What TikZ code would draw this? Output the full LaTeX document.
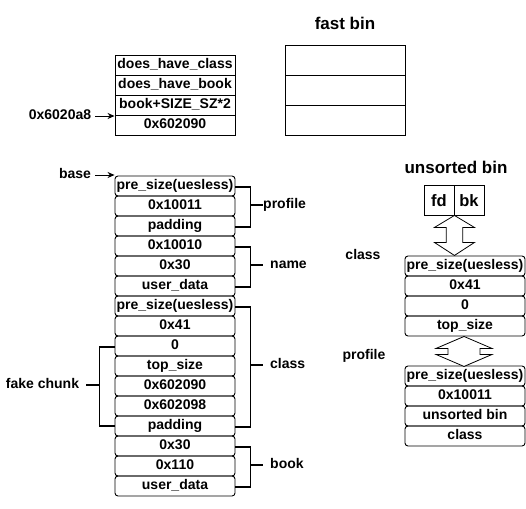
\documentclass[tikz,border=0pt]{standalone}
\usepackage{fontspec}
\setmainfont{Liberation Sans}
\usetikzlibrary{arrows.meta,calc}
\begin{document}
\begin{tikzpicture}[x=1pt,y=-1pt,
  cell/.style={draw, line width=0.9pt, rounded corners=3pt, minimum width=120pt, minimum height=20pt, inner sep=0pt, text height=10pt, text depth=3pt, font=\bfseries\fontsize{14}{16}\selectfont},
  sqcell/.style={cell, sharp corners},
  lbl/.style={inner sep=0pt, text height=10pt, text depth=3pt, font=\bfseries\fontsize{14}{16}\selectfont},
  title/.style={inner sep=0pt, anchor=base, font=\bfseries\fontsize{17}{20}\selectfont},
  bracket/.style={line width=1.8pt, line join=miter},
  ptr/.style={line width=1pt, -{Stealth[length=7pt,width=6pt]}},
  dbl/.style={draw, fill=white, line width=0.8pt, line join=miter}]
\fill[white] (0,0) rectangle (526,508);
\useasboundingbox (0,0) rectangle (526,508);

% top table
\node[sqcell] (t1) at (175,65) {does\_have\_class};
\node[sqcell] (t2) at (175,85) {does\_have\_book};
\node[sqcell] (t3) at (175,105) {book+SIZE\_SZ*2};
\node[sqcell] (t4) at (175,125) {0x602090};
\node[lbl] (Laddr) at (60,116) {0x6020a8};
\draw[ptr] ([xshift=4pt]Laddr.east) -- (Laddr.east -| t4.west);

% fast bin
\node[title] (fbt) at (345,30) {fast bin};
\node[sqcell, minimum height=30pt] (f1) at (345,60) {};
\node[sqcell, minimum height=30pt] (f2) at (345,90) {};
\node[sqcell, minimum height=30pt] (f3) at (345,120) {};

% left column
\node[cell] (p1) at (175,186) {pre\_size(uesless)};
\node[cell] (p2) at (175,206) {0x10011};
\node[cell] (p3) at (175,226) {padding};
\node[cell] (p4) at (175,246) {0x10010};
\node[cell] (p5) at (175,266) {0x30};
\node[cell] (p6) at (175,286) {user\_data};
\node[cell] (p7) at (175,306) {pre\_size(uesless)};
\node[cell] (p8) at (175,326) {0x41};
\node[cell] (p9) at (175,346) {0};
\node[cell] (p10) at (175,366) {top\_size};
\node[cell] (p11) at (175,386) {0x602090};
\node[cell] (p12) at (175,406) {0x602098};
\node[cell] (p13) at (175,426) {padding};
\node[cell] (p14) at (175,446) {0x30};
\node[cell] (p15) at (175,466) {0x110};
\node[cell] (p16) at (175,486) {user\_data};

\node[lbl] (Lbase) at (75,175) {base};
\draw[ptr] ([xshift=4pt]Lbase.east) -- (Lbase.east -| p1.west);

% brackets right
\node[lbl, anchor=west] (Lprofile) at (263,205) {profile};
\draw[bracket] ([yshift=-1pt]p1.east) -- ++(15,0) coordinate (bp) |- ([yshift=-1pt]p3.east);
\draw[bracket] (bp |- Lprofile.west) -- (Lprofile.west);

\node[lbl, anchor=west] (Lname) at (270,265) {name};
\draw[bracket] ([yshift=-1pt]p4.east) -- ++(15,0) coordinate (bn) |- ([yshift=-1pt]p6.east);
\draw[bracket] (bn |- Lname.west) -- ([xshift=-7pt]Lname.west);

\node[lbl, anchor=west] (Lclass) at (270,365) {class};
\draw[bracket] ([yshift=-1pt]p7.east) -- ++(15,0) coordinate (bc) |- ([yshift=-1pt]p13.east);
\draw[bracket] (bc |- Lclass.west) -- ([xshift=-7pt]Lclass.west);

\node[lbl, anchor=west] (Lbook) at (270,465) {book};
\draw[bracket] ([yshift=-1pt]p14.east) -- ++(15,0) coordinate (bb) |- ([yshift=-1pt]p16.east);
\draw[bracket] (bb |- Lbook.west) -- ([xshift=-7pt]Lbook.west);

% fake chunk bracket
\node[lbl] (Lfake) at (42.5,385) {fake chunk};
\draw[bracket] ([yshift=-1pt]p9.west) -- ++(-15,0) coordinate (bf) |- (p13.west);
\draw[bracket] ([xshift=7pt]Lfake.east) -- (bf |- Lfake.east);

% unsorted bin
\node[title] (ubt) at (456,173) {unsorted bin};
\node[sqcell, minimum width=30pt, minimum height=30pt, font=\bfseries\fontsize{16.5}{19}\selectfont, text height=12pt, text depth=0pt] (fd) at (439,200) {fd};
\node[sqcell, minimum width=30pt, minimum height=30pt, font=\bfseries\fontsize{16.5}{19}\selectfont, text height=12pt, text depth=0pt] (bk) at (469,200) {bk};

\node[cell] (u1) at (465,266) {pre\_size(uesless)};
\node[cell] (u2) at (465,286) {0x41};
\node[cell] (u3) at (465,306) {0};
\node[cell] (u4) at (465,326) {top\_size};
\node[cell] (v1) at (465,376) {pre\_size(uesless)};
\node[cell] (v2) at (465,396) {0x10011};
\node[cell] (v3) at (465,416) {unsorted bin};
\node[cell] (v4) at (465,436) {class};

\node[lbl] (Rclass) at (363,255.5) {class};
\node[lbl] (Rprofile) at (364,355.5) {profile};

% double arrows
\path[dbl] (fd.south east) -- ++(20,12) -- ++(-11.7,0) -- ++(0,15) -- ++(11.7,0) -- ++(-20,13)
  -- ++(-20,-13) -- ++(11.7,0) -- ++(0,-15) -- ++(-11.7,0) -- cycle;
\path[dbl] ([xshift=-1pt]u4.south) -- ++(28,12) -- ++(-12,0) -- ++(0,6) -- ++(12,0) -- ++(-28,12)
  -- ++(-28,-12) -- ++(12,0) -- ++(0,-6) -- ++(-12,0) -- cycle;
\end{tikzpicture}
\end{document}
